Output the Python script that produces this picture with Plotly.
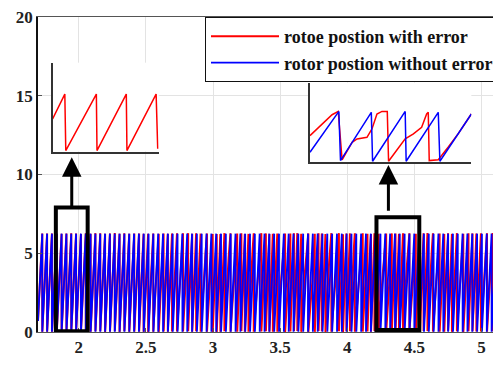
import numpy as np
import plotly.graph_objects as go

# ---------------- data ----------------
x_ticks = [2, 2.5, 3, 3.5, 4, 4.5, 5]
y_ticks = [0, 5, 10, 15, 20]
x_range = [1.696, 5.131]
y_range = [0, 20]

electrical_period = 0.036      # s, one rotor-position ramp
theta_max = 6.28               # rad, top of each ramp
t_start, t_end = 1.696, 5.131

# slowly varying error envelope (rad) seen in the red trace
error_knot_t = [1.696, 2.3, 2.7, 3.2, 3.8, 4.4, 4.8, 5.131]
error_knot_amp = [0.0, 0.05, 1.0, 2.2, 2.6, 2.2, 1.5, 1.3]
error_wobble_period = 0.19     # s

# inset 1 (zoom of box near t=2): red only
inset1_t = [0.0, 0.115, 0.124, 0.412, 0.418, 0.694, 0.70, 0.975, 0.99]
inset1_theta = [3.56, 6.28, 0.1, 6.28, 0.1, 6.28, 0.1, 6.28, 0.3]

# inset 2 (zoom of box near t=4.4)
inset2_blue_t = [0.0, 0.179, 0.189, 0.380, 0.388, 0.590, 0.596, 0.795, 0.805, 1.0]
inset2_blue_theta = [1.23, 6.28, 0.2, 6.16, 0.12, 6.28, 0.12, 6.16, 0.12, 5.96]
inset2_red_t = [0.0, 0.055, 0.137, 0.175, 0.199, 0.22, 0.261, 0.292, 0.353, 0.384,
                0.415, 0.446, 0.479, 0.487, 0.548, 0.590, 0.641, 0.692, 0.723,
                0.733, 0.739, 0.795, 0.856, 0.918, 1.0]
inset2_red_theta = [3.29, 4.31, 5.87, 6.28, 0.3, 1.03, 2.46, 2.88, 3.08, 4.11,
                    5.96, 6.28, 6.28, 0.12, 1.85, 2.88, 3.50, 4.31, 5.96,
                    6.16, 0.2, 0.3, 1.85, 3.50, 5.96]

# annotation boxes (data coords)
box1 = dict(x0=1.829, x1=2.066, y0=0.05, y1=7.91)
box2 = dict(x0=4.218, x1=4.537, y0=0.13, y1=7.28)

series_names = ["rotoe postion with error", "rotor postion without error"]
RED = "#ff0000"
BLUE = "#0000ff"
FONT = "Liberation Serif"

# ---------------- build main signals ----------------
t = np.arange(t_start, t_end, 0.0003)
base = 2 * np.pi * t / electrical_period
blue_theta = np.mod(base, 2 * np.pi) * theta_max / (2 * np.pi)
env = np.interp(t, error_knot_t, error_knot_amp)
err = env * np.sin(2 * np.pi * t / error_wobble_period)
red_theta = np.mod(base + err, 2 * np.pi) * theta_max / (2 * np.pi)

fig = go.Figure()
fig.add_trace(go.Scatter(x=t, y=red_theta, mode="lines", name=series_names[0],
                         line=dict(color=RED, width=2)))
fig.add_trace(go.Scatter(x=t, y=blue_theta, mode="lines", name=series_names[1],
                         line=dict(color=BLUE, width=1.8)))

# insets
fig.add_trace(go.Scatter(x=inset1_t, y=inset1_theta, mode="lines", showlegend=False,
                         line=dict(color=RED, width=1.5), xaxis="x2", yaxis="y2"))
fig.add_trace(go.Scatter(x=inset2_red_t, y=inset2_red_theta, mode="lines", showlegend=False,
                         line=dict(color=RED, width=1.5), xaxis="x3", yaxis="y3"))
fig.add_trace(go.Scatter(x=inset2_blue_t, y=inset2_blue_theta, mode="lines", showlegend=False,
                         line=dict(color=BLUE, width=1.5), xaxis="x3", yaxis="y3"))

tickfont = dict(family=FONT, size=17, color="#222", weight="bold")
inset_axis = dict(showline=True, linecolor="#333", linewidth=1.5, showgrid=False,
                  zeroline=False, showticklabels=False, ticks="")

# page body adds an 8px offset, so the figure is drawn 8px smaller
fig.update_layout(
    width=493, height=361,
    margin=dict(l=30, r=0, t=8, b=37),
    paper_bgcolor="white", plot_bgcolor="white",
    xaxis=dict(range=x_range, tickvals=x_ticks, ticktext=[str(v) for v in x_ticks],
               showgrid=True, gridcolor="#e3e3e3", gridwidth=1, zeroline=False,
               showline=True, linecolor="#555", linewidth=1, mirror=True,
               ticks="inside", ticklen=4, tickcolor="#555", tickfont=tickfont,
               ticklabeloverflow="allow"),
    yaxis=dict(range=y_range, tickvals=y_ticks, ticktext=[str(v) for v in y_ticks],
               showgrid=True, gridcolor="#e3e3e3", gridwidth=1, zeroline=False,
               showline=True, linecolor="#111", linewidth=1.5, mirror=True,
               ticks="inside", ticklen=4, tickcolor="#555", tickfont=tickfont,
               ticklabeloverflow="allow"),
    xaxis2=dict(domain=[0.0317, 0.262], range=[0, 1], anchor="y2", **inset_axis),
    yaxis2=dict(domain=[0.573, 0.855], range=[0, 9.72], anchor="x2", **inset_axis),
    xaxis3=dict(domain=[0.590, 0.940], range=[0, 1], anchor="y3", **inset_axis),
    yaxis3=dict(domain=[0.539, 0.792], range=[0, 9.85], anchor="x3", **inset_axis),
    legend=dict(x=1.0, y=1.0, xanchor="right", yanchor="top",
                bgcolor="white", bordercolor="#111", borderwidth=1,
                font=dict(family=FONT, size=18, color="#111", weight="bold"),
                itemwidth=68, tracegroupgap=0),
    showlegend=True,
)

for b in (box1, box2):
    fig.add_shape(type="rect", xref="x", yref="y", line=dict(color="black", width=4),
                  fillcolor="rgba(0,0,0,0)", layer="above", **b)

arrow_specs = [((box1["x0"] + box1["x1"]) / 2, box1["y1"], 11.1),
               (4.307, 7.6, 10.6)]
for ax_x, y_from, y_to in arrow_specs:
    fig.add_annotation(x=ax_x, y=y_to, ax=ax_x, ay=y_from, xref="x", yref="y",
                       axref="x", ayref="y", text="", showarrow=True,
                       arrowhead=2, arrowsize=1.3, arrowwidth=3, arrowcolor="black")

fig.write_html("out.html")
